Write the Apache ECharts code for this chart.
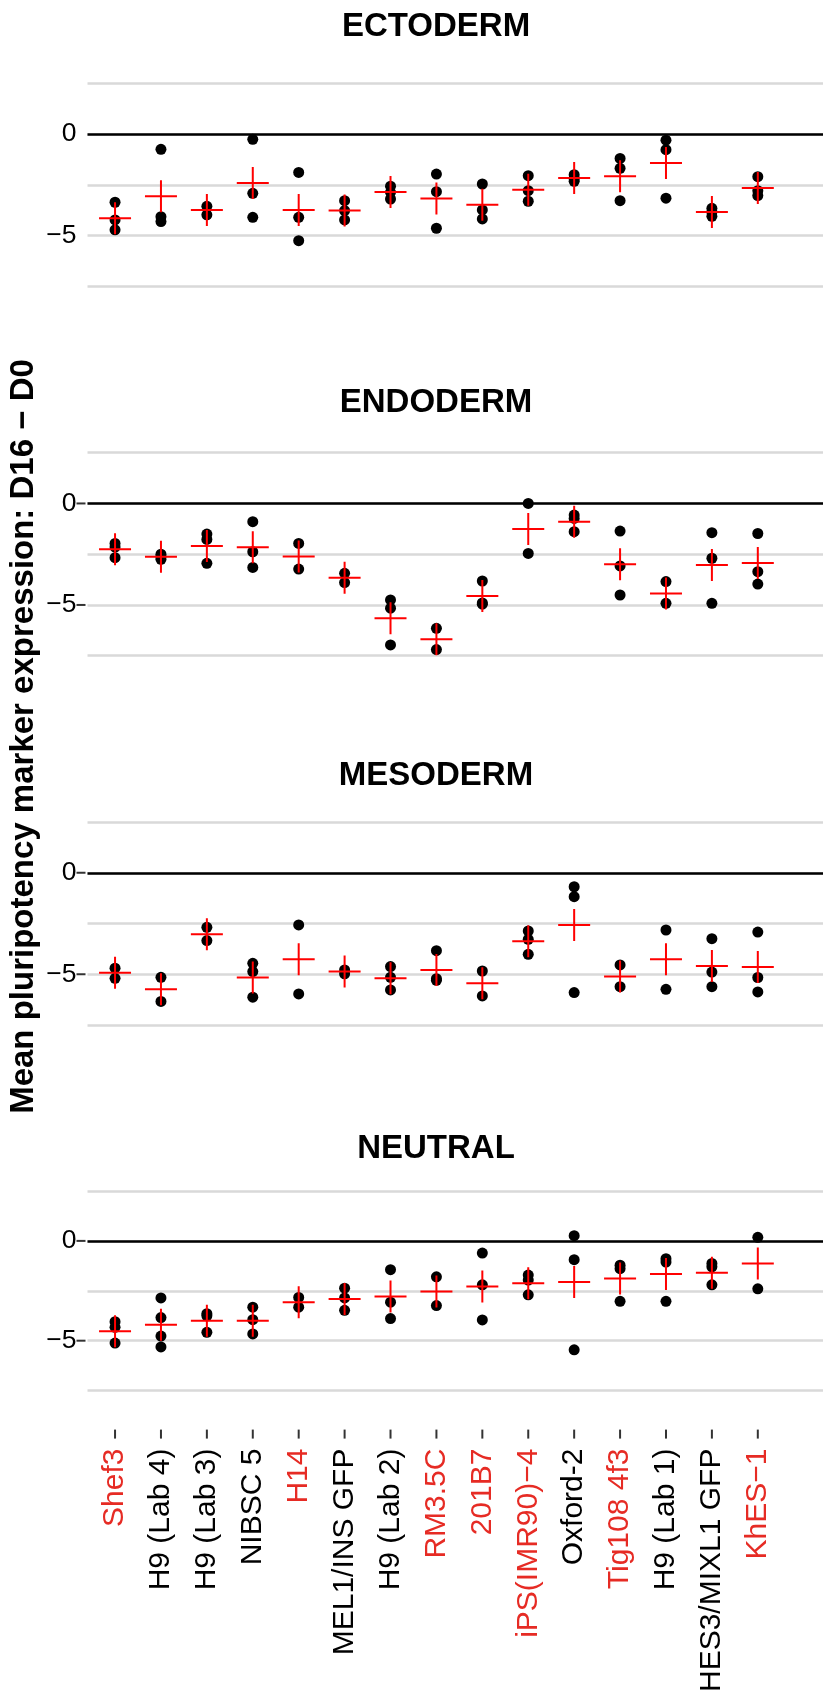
<!DOCTYPE html>
<html>
<head>
<meta charset="utf-8">
<script src="https://cdn.jsdelivr.net/npm/echarts@6/dist/echarts.min.js"></script>
<style>
html,body{margin:0;padding:0;background:#fff;}
#chart{width:823px;height:1695px;}
</style>
</head>
<body>
<div id="chart"></div>
<script>
const categories = ['Shef3','H9 (Lab 4)','H9 (Lab 3)','NIBSC 5','H14','MEL1/INS GFP','H9 (Lab 2)','RM3.5C','201B7','iPS(IMR90)\u22124','Oxford-2','Tig108 4f3','H9 (Lab 1)','HES3/MIXL1 GFP','KhES\u22121'];
const redLabels = [true,false,false,false,true,false,false,true,true,true,false,true,false,false,true];
const panelTitles = ['ECTODERM','ENDODERM','MESODERM','NEUTRAL'];
const yTitle = 'Mean pluripotency marker expression: D16 \u2212 D0';

const ectoPoints = [[-3.36,-4.23,-4.72],[-0.75,-4.07,-4.31],[-3.56,-3.98],[-0.26,-2.92,-4.1],[-1.89,-4.1,-5.25],[-3.28,-3.77,-4.23],[-2.57,-2.87,-3.2],[-1.97,-2.84,-4.64],[-2.46,-3.74,-4.18],[-2.05,-2.79,-3.31],[-2.0,-2.2,-2.33],[-1.2,-1.69,-3.28],[-0.3,-0.77,-3.16],[-3.66,-3.84,-4.05],[-2.1,-2.79,-3.03]];
const ectoMeans = [-4.15,-3.07,-3.74,-2.41,-3.74,-3.77,-2.85,-3.18,-3.48,-2.74,-2.16,-2.08,-1.43,-3.84,-2.66];

const endoPoints = [[-1.97,-2.15,-2.67],[-2.5,-2.62,-2.75],[-1.51,-1.77,-2.95],[-0.9,-2.38,-3.15],[-1.97,-3.23],[-3.44,-3.9],[-4.75,-5.16,-6.97],[-6.15,-7.2],[-3.82,-4.9,-4.96],[0.0,-2.46],[-0.57,-0.74,-1.39],[-1.36,-3.08,-4.51],[-3.85,-4.92],[-1.44,-2.7,-4.92],[-1.48,-3.36,-3.97]];
const endoMeans = [-2.25,-2.62,-2.1,-2.16,-2.61,-3.66,-5.66,-6.69,-4.56,-1.26,-0.9,-3.0,-4.43,-3.03,-2.93];

const mesoPoints = [[-4.7,-5.2],[-5.15,-6.34],[-2.69,-3.34],[-4.46,-4.87,-6.13],[-2.57,-5.97],[-4.79,-4.98],[-4.62,-5.15,-5.77],[-3.84,-5.22,-5.3],[-4.84,-6.07],[-2.87,-3.28,-4.02],[-0.69,-1.18,-5.9],[-4.54,-5.61],[-2.82,-5.74],[-3.25,-4.89,-5.61],[-2.92,-5.16,-5.87]];
const mesoMeans = [-4.92,-5.74,-3.03,-5.16,-4.26,-4.87,-5.2,-4.79,-5.44,-3.38,-2.57,-5.11,-4.26,-4.59,-4.64];

const neutPoints = [[-4.05,-4.33,-5.12],[-2.86,-3.84,-4.77,-5.31],[-3.65,-3.75,-4.58],[-3.32,-3.95,-4.66],[-2.83,-3.32],[-2.37,-2.86,-3.48],[-1.44,-3.07,-3.89],[-1.8,-3.24],[-0.61,-2.2,-3.96],[-1.71,-1.96,-2.7],[0.26,-0.94,-5.46],[-1.22,-1.39,-3.03],[-0.89,-1.06,-3.03],[-1.13,-1.3,-2.2],[0.18,-2.4]];
const neutMeans = [-4.53,-4.2,-4.0,-4.0,-3.07,-2.91,-2.78,-2.53,-2.29,-2.12,-2.06,-1.88,-1.66,-1.6,-1.13];

const yTickLabels = {'0': '0', '-5': '\u22125'};

const panels = [
  {points: ectoPoints, means: ectoMeans},
  {points: endoPoints, means: endoMeans},
  {points: mesoPoints, means: mesoMeans},
  {points: neutPoints, means: neutMeans}
];

const FONT = '"Liberation Sans", Arial, Helvetica, sans-serif';
const gridTops = [83.3, 452.7, 822, 1191];
const gridH = 203;
const titleCenters = [28, 404, 777, 1150];
const crossPath = 'path://M0,15H32V17H0Z M15,0H17V32H15Z';
const catIdx = categories.map((c, i) => i);

const grids = [], xAxes = [], yAxes = [], series = [], titles = [];
panels.forEach((p, k) => {
  grids.push({left: 87.5, right: 0, top: gridTops[k], height: gridH, containLabel: false});
  const isBottom = k === 3;
  xAxes.push({
    gridIndex: k, type: 'value', min: -0.6, max: 15.42,
    position: 'bottom', offset: isBottom ? 39 : 0,
    axisLine: {show: false},
    splitLine: {show: false},
    axisTick: {show: false},
    axisLabel: isBottom ? {
      show: true, customValues: catIdx, rotate: 90, margin: 0,
      formatter: function (v) {
        const i = Math.round(v);
        return '{' + (redLabels[i] ? 'r' : 'k') + '|' + categories[i] + '}{sp|}{tk|}';
      },
      rich: {
        r: {color: '#e62b24', fontSize: 30, fontFamily: FONT, verticalAlign: 'middle'},
        k: {color: '#000', fontSize: 30, fontFamily: FONT, verticalAlign: 'middle'},
        sp: {width: 10, height: 2, verticalAlign: 'middle'},
        tk: {width: 9, height: 2, backgroundColor: '#333', verticalAlign: 'middle'}
      }
    } : {show: false}
  });
  const withTick = k > 0;
  yAxes.push({
    gridIndex: k, type: 'value', min: -7.5, max: 2.5, interval: 2.5,
    axisLine: {show: false},
    axisTick: {show: false},
    axisLabel: {
      margin: withTick ? 2 : 11,
      formatter: function (v) {
        const t = yTickLabels[String(v)];
        if (t === undefined) return '';
        return '{a|' + t + '}' + (withTick ? '{tk|}' : '');
      },
      rich: {
        a: {color: '#000', fontSize: 26.5, fontFamily: FONT, verticalAlign: 'middle'},
        tk: {width: 9, height: 2, backgroundColor: '#333', verticalAlign: 'middle'}
      }
    },
    splitLine: {show: true, lineStyle: {color: '#d9d9d9', width: 2.5}}
  });
  const dots = [];
  p.points.forEach((arr, i) => arr.forEach(v => dots.push([i, v])));
  series.push({
    type: 'scatter', xAxisIndex: k, yAxisIndex: k, data: dots,
    symbol: 'circle', symbolSize: 11, itemStyle: {color: '#000', opacity: 1}, z: 2, silent: true,
    markLine: {
      silent: true, symbol: 'none', animation: false, z: 1,
      label: {show: false},
      lineStyle: {color: '#000', width: 2.6, type: 'solid'},
      data: [{yAxis: 0}]
    }
  });
  series.push({
    type: 'scatter', xAxisIndex: k, yAxisIndex: k,
    data: p.means.map((v, i) => [i, v]),
    symbol: crossPath, symbolSize: 32, itemStyle: {color: '#ff0000', opacity: 1}, z: 3, silent: true
  });
  titles.push({
    text: panelTitles[k], left: 436, top: titleCenters[k] - 18, textAlign: 'center', padding: 0,
    textStyle: {fontSize: 33, fontWeight: 'bold', color: '#000', fontFamily: FONT}
  });
});

const chart = echarts.init(document.getElementById('chart'), null, {renderer: 'canvas'});
chart.setOption({
  animation: false,
  backgroundColor: '#fff',
  title: titles,
  grid: grids,
  xAxis: xAxes,
  yAxis: yAxes,
  series: series,
  graphic: [{
    type: 'text', x: 24, y: 736.5, rotation: Math.PI / 2,
    style: {text: yTitle, fontSize: 33, fontWeight: 'bold', fill: '#000', fontFamily: FONT, align: 'center', verticalAlign: 'middle'}
  }]
});
</script>
</body>
</html>
